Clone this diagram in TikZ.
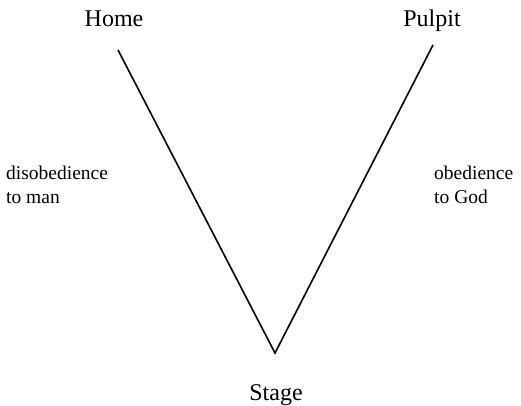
\documentclass[tikz,border=0pt]{standalone}
\usepackage{fontspec}
\setmainfont{Liberation Serif}
\begin{document}
\begin{tikzpicture}[x=1pt,y=-1pt,
  big/.style={font=\fontsize{24}{28}\selectfont, inner sep=0pt, anchor=base},
  lbl/.style={font=\fontsize{19.5}{24.5}\selectfont, inner sep=0pt, anchor=base west, align=left},
  vline/.style={line width=1.6pt}]
\useasboundingbox (0,0) rectangle (521,405);
\node[big] (home) at (114,26) {Home};
\node[big] (pulpit) at (432,26) {Pulpit};
\node[big] (stage) at (276,400) {Stage};
\node[lbl] (dis) at (6,203.5) {disobedience\\to man};
\node[lbl] (obe) at (434,203.5) {obedience\\to God};
\coordinate (ltop) at (118,50);
\coordinate (rtop) at (433,45);
\coordinate (bot) at (275,353);
\draw[vline, line join=miter] (ltop) -- (bot) -- (rtop);
\end{tikzpicture}
\end{document}
